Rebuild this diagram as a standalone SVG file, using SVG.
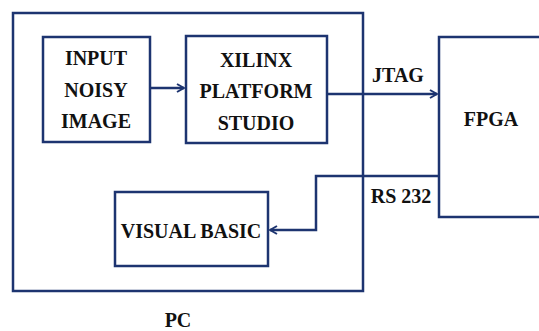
<svg xmlns="http://www.w3.org/2000/svg" width="539" height="331" viewBox="0 0 539 331">
<style>
.box{fill:none;stroke:#1d3470;stroke-width:2.5}
.ln{fill:none;stroke:#1d3470;stroke-width:2.5}
text{font-family:'Liberation Serif','Times New Roman',Tinos,'DejaVu Serif',serif;font-weight:bold;font-size:20px;fill:#111;text-anchor:middle}
</style>
<defs>
<marker id="ah" viewBox="0 0 10 10" refX="9" refY="5" markerWidth="10" markerHeight="10" markerUnits="userSpaceOnUse" orient="auto">
<path d="M2,1 L9,5 L2,9" fill="none" stroke="#1d3470" stroke-width="2"/>
</marker>
</defs>
<rect width="539" height="331" fill="#fff"/>
<g id="pc">
<rect class="box" x="13" y="13" width="350" height="278"/>
<text x="178" y="327">PC</text>
</g>
<g id="input">
<rect class="box" x="43" y="37" width="107" height="105"/>
<text x="96" y="65">INPUT</text>
<text x="96" y="97">NOISY</text>
<text x="96" y="128">IMAGE</text>
</g>
<g id="xilinx">
<rect class="box" x="186" y="36" width="141" height="107"/>
<text x="256" y="67">XILINX</text>
<text x="256" y="98">PLATFORM</text>
<text x="256" y="130">STUDIO</text>
</g>
<g id="fpga">
<rect class="box" x="439" y="37" width="110" height="180"/>
<text x="491" y="126">FPGA</text>
</g>
<g id="vb">
<rect class="box" x="115" y="192" width="153" height="74"/>
<text x="191" y="238">VISUAL BASIC</text>
</g>
<g id="connectors">
<line class="ln" x1="150" y1="88" x2="184" y2="88" marker-end="url(#ah)"/>
<line class="ln" x1="327" y1="94" x2="437" y2="94" marker-end="url(#ah)"/>
<polyline class="ln" points="439,176 316,176 316,230 270,230" marker-end="url(#ah)"/>
<text x="398" y="82">JTAG</text>
<text x="401" y="203">RS 232</text>
</g>
</svg>
